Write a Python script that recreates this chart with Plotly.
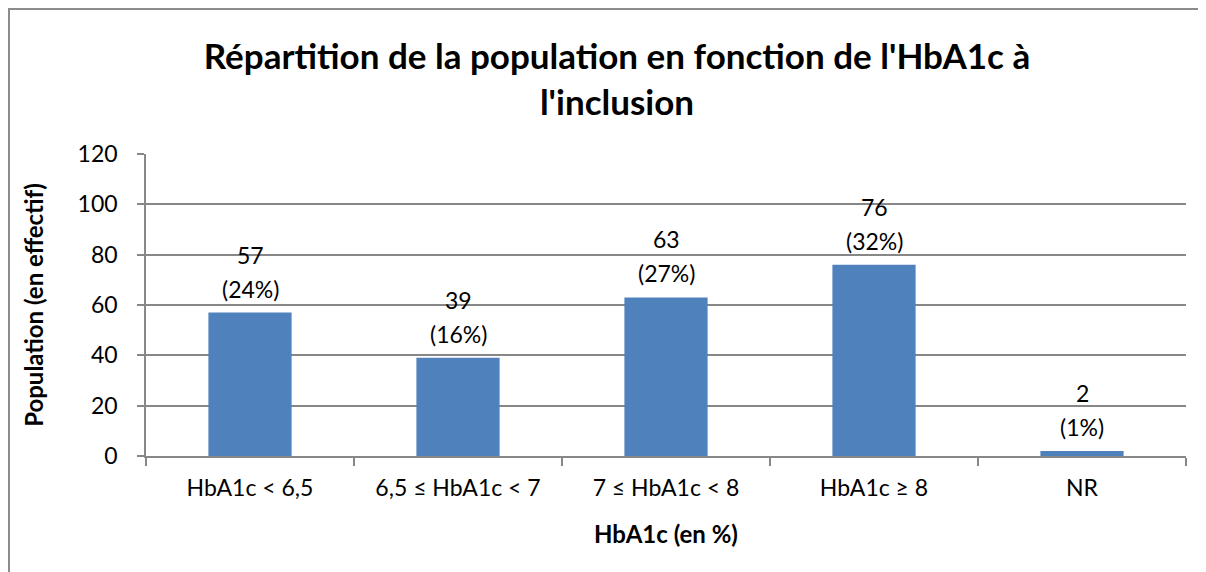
import plotly.graph_objects as go

categories = ["HbA1c < 6,5", "6,5 ≤ HbA1c < 7", "7 ≤ HbA1c < 8", "HbA1c ≥ 8", "NR"]
counts = [57, 39, 63, 76, 2]
percents = ["(24%)", "(16%)", "(27%)", "(32%)", "(1%)"]
y_ticks = [0, 20, 40, 60, 80, 100, 120]

W, H = 1206, 572
L, R, T, B = 138, 28, 146, 124
FONT = "Lato"
GRID = "#878787"

fig = go.Figure()
fig.add_trace(go.Bar(x=categories, y=counts, marker=dict(color="#4F81BD", line=dict(width=0)),
                     hoverinfo="skip"))

# two-line value labels above each bar
for cat, n, pct in zip(categories, counts, percents):
    fig.add_annotation(x=cat, y=n, text=str(n), showarrow=False, yanchor="middle",
                       yshift=58, font=dict(family=FONT, size=23, color="black"))
    fig.add_annotation(x=cat, y=n, text=pct, showarrow=False, yanchor="middle",
                       yshift=24, font=dict(family=FONT, size=23, color="black"))

# outer chart border (top/left visible, rest cropped)
pw, ph = W - L - R, H - T - B
fig.add_shape(type="rect", xref="paper", yref="paper",
              x0=(1 - L) / pw, x1=(W + 10 - L) / pw,
              y0=-(H + 10 - T - ph) / ph, y1=1 + (T - 1) / ph,
              line=dict(color="#8C8C8C", width=2), fillcolor="rgba(0,0,0,0)")

fig.update_layout(
    width=W, height=H,
    margin=dict(l=L, r=R, t=T, b=B),
    paper_bgcolor="white", plot_bgcolor="white",
    showlegend=False, bargap=0.6,
    font=dict(family=FONT, color="black"),
    title=dict(text="Répartition de la population en fonction de l'HbA1c à<br>l'inclusion",
               x=609 / W, xanchor="center", y=1 - 61 / H, yanchor="middle",
               yref="container", font=dict(family=FONT, size=35, color="black", weight="bold")),
    xaxis=dict(title=dict(text="HbA1c (en %)", font=dict(family=FONT, size=24, weight="bold"), standoff=26),
               tickfont=dict(family=FONT, size=23), showgrid=False,
               showline=True, linecolor=GRID, linewidth=1.5,
               ticks="outside", ticklen=8, tickcolor=GRID, tickwidth=1.5,
               tickson="boundaries", ticklabelstandoff=11),
    yaxis=dict(title=dict(text="Population (en effectif)", font=dict(family=FONT, size=24, weight="bold"), standoff=27),
               range=[0, 120], tickvals=y_ticks, tickfont=dict(family=FONT, size=23),
               showgrid=True, gridcolor=GRID, gridwidth=1.5, zeroline=False,
               showline=True, linecolor=GRID, linewidth=1.5,
               ticks="outside", ticklen=7, tickcolor=GRID, tickwidth=1.5,
               ticklabelstandoff=15),
)

fig.write_html("out.html")
